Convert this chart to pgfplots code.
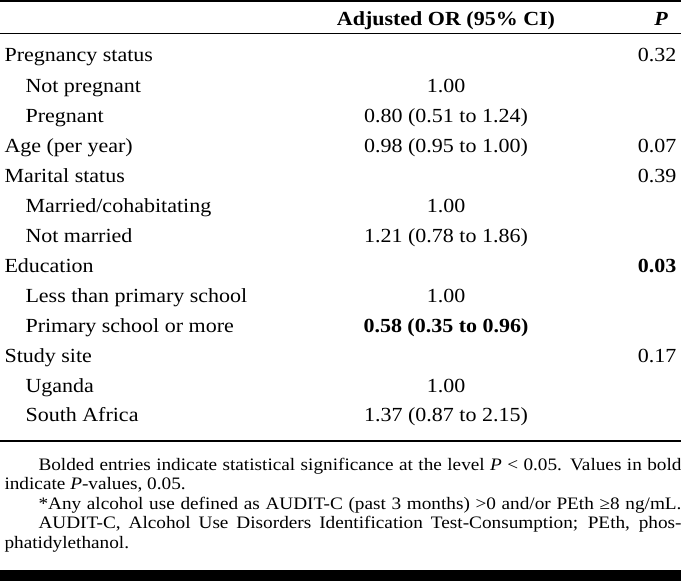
\documentclass[border=0pt]{standalone}
\usepackage{pgfplots}
\pgfplotsset{compat=1.18}
\usepackage{fontspec}
\setmainfont{Liberation Serif}[FakeStretch=1.1]
\newcommand{\bodyfont}{\fontsize{20bp}{24bp}\selectfont}
\newcommand{\notefont}{\fontsize{17.5bp}{19.5bp}\selectfont}
\begin{document}
\begin{tikzpicture}
\begin{axis}[scale only axis, width=681bp, height=581bp,
  xmin=0, xmax=681, ymin=0, ymax=581, y dir=reverse,
  hide axis, clip=false,
  every node/.append style={inner sep=0pt, outer sep=0pt}]
% rules
\addplot[black, line width=2.5bp] coordinates {(0,1.25) (681,1.25)};
\addplot[black, line width=1.2bp] coordinates {(0,33.5) (681,33.5)};
\addplot[black, line width=1.5bp] coordinates {(0,441) (681,441)};
\addplot[black, line width=11bp] coordinates {(0,575.5) (681,575.5)};
% header
\node[anchor=base, font=\bodyfont\bfseries] at (axis cs:446,26) {Adjusted OR (95\% CI)};
\node[anchor=base, font=\bodyfont\bfseries\itshape] at (axis cs:661,26) {P};
% rows
\node[anchor=base west, font=\bodyfont] at (axis cs:1,62) {Pregnancy status};
\node[anchor=base east, font=\bodyfont] at (axis cs:680,62) {0.32};
\node[anchor=base west, font=\bodyfont] at (axis cs:22,92) {Not pregnant};
\node[anchor=base, font=\bodyfont] at (axis cs:446,92) {1.00};
\node[anchor=base west, font=\bodyfont] at (axis cs:22,122) {Pregnant};
\node[anchor=base, font=\bodyfont] at (axis cs:446,122) {0.80 (0.51 to 1.24)};
\node[anchor=base west, font=\bodyfont] at (axis cs:1,152) {Age (per year)};
\node[anchor=base, font=\bodyfont] at (axis cs:446,152) {0.98 (0.95 to 1.00)};
\node[anchor=base east, font=\bodyfont] at (axis cs:680,152) {0.07};
\node[anchor=base west, font=\bodyfont] at (axis cs:1,182) {Marital status};
\node[anchor=base east, font=\bodyfont] at (axis cs:680,182) {0.39};
\node[anchor=base west, font=\bodyfont] at (axis cs:22,212) {Married/cohabitating};
\node[anchor=base, font=\bodyfont] at (axis cs:446,212) {1.00};
\node[anchor=base west, font=\bodyfont] at (axis cs:22,242) {Not married};
\node[anchor=base, font=\bodyfont] at (axis cs:446,242) {1.21 (0.78 to 1.86)};
\node[anchor=base west, font=\bodyfont] at (axis cs:1,272) {Education};
\node[anchor=base east, font=\bodyfont\bfseries] at (axis cs:680,272) {0.03};
\node[anchor=base west, font=\bodyfont] at (axis cs:22,302) {Less than primary school};
\node[anchor=base, font=\bodyfont] at (axis cs:446,302) {1.00};
\node[anchor=base west, font=\bodyfont] at (axis cs:22,332) {Primary school or more};
\node[anchor=base, font=\bodyfont\bfseries] at (axis cs:446,332) {0.58 (0.35 to 0.96)};
\node[anchor=base west, font=\bodyfont] at (axis cs:1,362) {Study site};
\node[anchor=base east, font=\bodyfont] at (axis cs:680,362) {0.17};
\node[anchor=base west, font=\bodyfont] at (axis cs:22,392) {Uganda};
\node[anchor=base, font=\bodyfont] at (axis cs:446,392) {1.00};
\node[anchor=base west, font=\bodyfont] at (axis cs:22,421) {South Africa};
\node[anchor=base, font=\bodyfont] at (axis cs:446,421) {1.37 (0.87 to 2.15)};
% footnotes
\node[anchor=base west, font=\notefont] at (axis cs:35,470) {\hbox to 643bp{Bolded entries indicate statistical significance at the level \textit{P} < 0.05. Values in bold}};
\node[anchor=base west, font=\notefont] at (axis cs:1,489.5) {indicate \textit{P}-values, 0.05.};
\node[anchor=base west, font=\notefont] at (axis cs:35,509) {\hbox to 643bp{*Any alcohol use defined as AUDIT-C (past 3 months) >0 and/or PEth ≥8 ng/mL.}};
\node[anchor=base west, font=\notefont] at (axis cs:35,528.5) {\hbox to 643bp{AUDIT-C, Alcohol Use Disorders Identification Test-Consumption; PEth, phos-}};
\node[anchor=base west, font=\notefont] at (axis cs:1,548) {phatidylethanol.};
\end{axis}
\pgfresetboundingbox
\path (current axis.south west) rectangle (current axis.north east);
\end{tikzpicture}
\end{document}
